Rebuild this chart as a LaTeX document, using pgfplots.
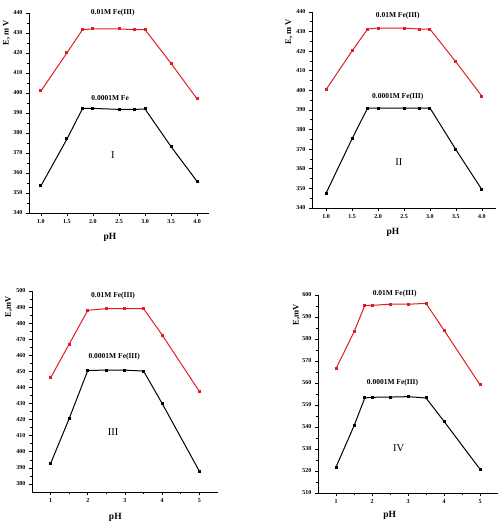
\documentclass[border=0pt]{standalone}
\usepackage{fontspec}
\setmainfont{Liberation Serif}
\usepackage{pgfplots}
\pgfplotsset{compat=1.18}

\definecolor{redline}{RGB}{222,30,36}

\tikzset{
  lab/.style={font=\fontsize{7.5}{9}\selectfont\bfseries},
  ylab/.style={font=\fontsize{8.5}{10}\selectfont\bfseries, rotate=90},
  phlab/.style={font=\fontsize{9.5}{11}\selectfont\bfseries},
  roman/.style={font=\fontsize{10.5}{12}\selectfont},
}

\pgfplotsset{
  potplot/.style={
    scale only axis,
    axis x line*=bottom,
    axis y line*=left,
    axis line style={-, line width=0.7pt},
    tick align=outside,
    major tick length=3pt,
    minor tick length=1.8pt,
    tick style={black, line width=0.6pt},
    minor y tick num=1,
    /pgf/number format/assume math mode=true,
    ticklabel style={font=\fontsize{6}{7}\selectfont\bfseries},
    clip=false,
  },
  redser/.style={redline, line width=1pt, mark=square*, mark size=1pt, mark options={redline}},
  blkser/.style={black, line width=1pt, mark=square*, mark size=1pt, mark options={black}},
}

\begin{document}
\begin{tikzpicture}
\useasboundingbox (0,0) rectangle (499pt,527pt);

% ---------- I ----------
\begin{axis}[potplot, at={(29pt,314pt)}, anchor=south west,
  width=180pt, height=200pt,
  xmin=0.77, xmax=4.23, ymin=340, ymax=440,
  xtick={1,1.5,...,4}, ytick={340,350,...,440},
  xticklabel style={/pgf/number format/.cd, fixed, fixed zerofill, precision=1}]
\addplot[redser] coordinates {(1.0,401) (1.5,420.1) (1.8,431.7) (2.0,432) (2.5,432) (2.8,431.7) (3.0,431.7) (3.5,414.8) (4.0,397.1)};
\addplot[blkser] coordinates {(1.0,353.6) (1.5,377) (1.8,392.3) (2.0,392.3) (2.5,391.8) (2.8,391.8) (3.0,392) (3.5,373.2) (4.0,355.8)};
\node[lab] at (axis cs:2.38,440) {0.01M Fe(III)};
\node[lab] at (axis cs:2.33,397.5) {0.0001M Fe};
\node[roman] at (axis cs:2.38,369) {I};
\node[phlab] at (rel axis cs:0.45,0) [yshift=-24pt] {pH};
\node[ylab] at (rel axis cs:-0.125,0.9) {E, m V};
\end{axis}

% ---------- II ----------
\begin{axis}[potplot, at={(312pt,319pt)}, anchor=south west,
  width=184pt, height=196pt,
  xmin=0.73, xmax=4.27, ymin=340, ymax=440,
  xtick={1,1.5,...,4}, ytick={340,350,...,440},
  xticklabel style={/pgf/number format/.cd, fixed, fixed zerofill, precision=1}]
\addplot[redser] coordinates {(1.0,400.4) (1.5,420.1) (1.8,431.3) (2.0,431.8) (2.5,431.8) (2.8,431.3) (3.0,431.2) (3.5,414.5) (4.0,397)};
\addplot[blkser] coordinates {(1.0,347.5) (1.5,375.3) (1.8,391) (2.0,391) (2.5,391) (2.8,391) (3.0,391) (3.5,369.7) (4.0,349.3)};
\node[lab] at (axis cs:2.38,438) {0.01M Fe(III)};
\node[lab] at (axis cs:2.38,396.6) {0.0001M Fe(III)};
\node[roman] at (axis cs:2.40,363.5) {II};
\node[phlab] at (rel axis cs:0.44,0) [yshift=-24pt] {pH};
\node[ylab] at (rel axis cs:-0.125,0.9) {E, m V};
\end{axis}

% ---------- III ----------
\begin{axis}[potplot, at={(32pt,35pt)}, anchor=south west,
  width=186pt, height=201pt,
  xmin=0.5, xmax=5.5, ymin=375, ymax=500,
  xtick={1,2,...,5}, minor x tick num=1, ytick={380,390,...,500}]
\addplot[redser] coordinates {(1,446) (1.5,467) (2,488) (2.5,489) (3,489) (3.5,489) (4,472.6) (5,437.5)};
\addplot[blkser] coordinates {(1,392.7) (1.5,420.7) (2,450.6) (2.5,450.8) (3,450.8) (3.5,450.2) (4,430) (5,387.9)};
\node[lab] at (axis cs:2.68,496.9) {0.01M Fe(III)};
\node[lab] at (axis cs:2.71,459) {0.0001M Fe(III)};
\node[roman] at (axis cs:2.68,412) {III};
\node[phlab] at (axis cs:2.74,375) [yshift=-25pt] {pH};
\node[ylab] at (rel axis cs:-0.125,0.92) {E,mV};
\end{axis}

% ---------- IV ----------
\begin{axis}[potplot, at={(318pt,34pt)}, anchor=south west,
  width=180pt, height=198pt,
  xmin=0.5, xmax=5.5, ymin=510, ymax=600,
  xtick={1,2,...,5}, minor x tick num=1, ytick={510,520,...,600}]
\addplot[redser] coordinates {(1,566.5) (1.5,583.2) (1.8,595.3) (2,595.3) (2.5,595.8) (3,595.8) (3.5,596.2) (4,584) (5,559.2)};
\addplot[blkser] coordinates {(1,521.8) (1.5,540.5) (1.8,553.2) (2,553.5) (2.5,553.6) (3,553.8) (3.5,553.2) (4,542.6) (5,520.8)};
\node[lab] at (axis cs:2.63,600.5) {0.01M Fe(III)};
\node[lab] at (axis cs:2.57,560) {0.0001M Fe(III)};
\node[roman] at (axis cs:2.74,530.5) {IV};
\node[phlab] at (axis cs:2.49,510) [yshift=-22pt] {pH};
\node[ylab] at (rel axis cs:-0.12,0.9) {E,mV};
\end{axis}
\end{tikzpicture}
\end{document}
